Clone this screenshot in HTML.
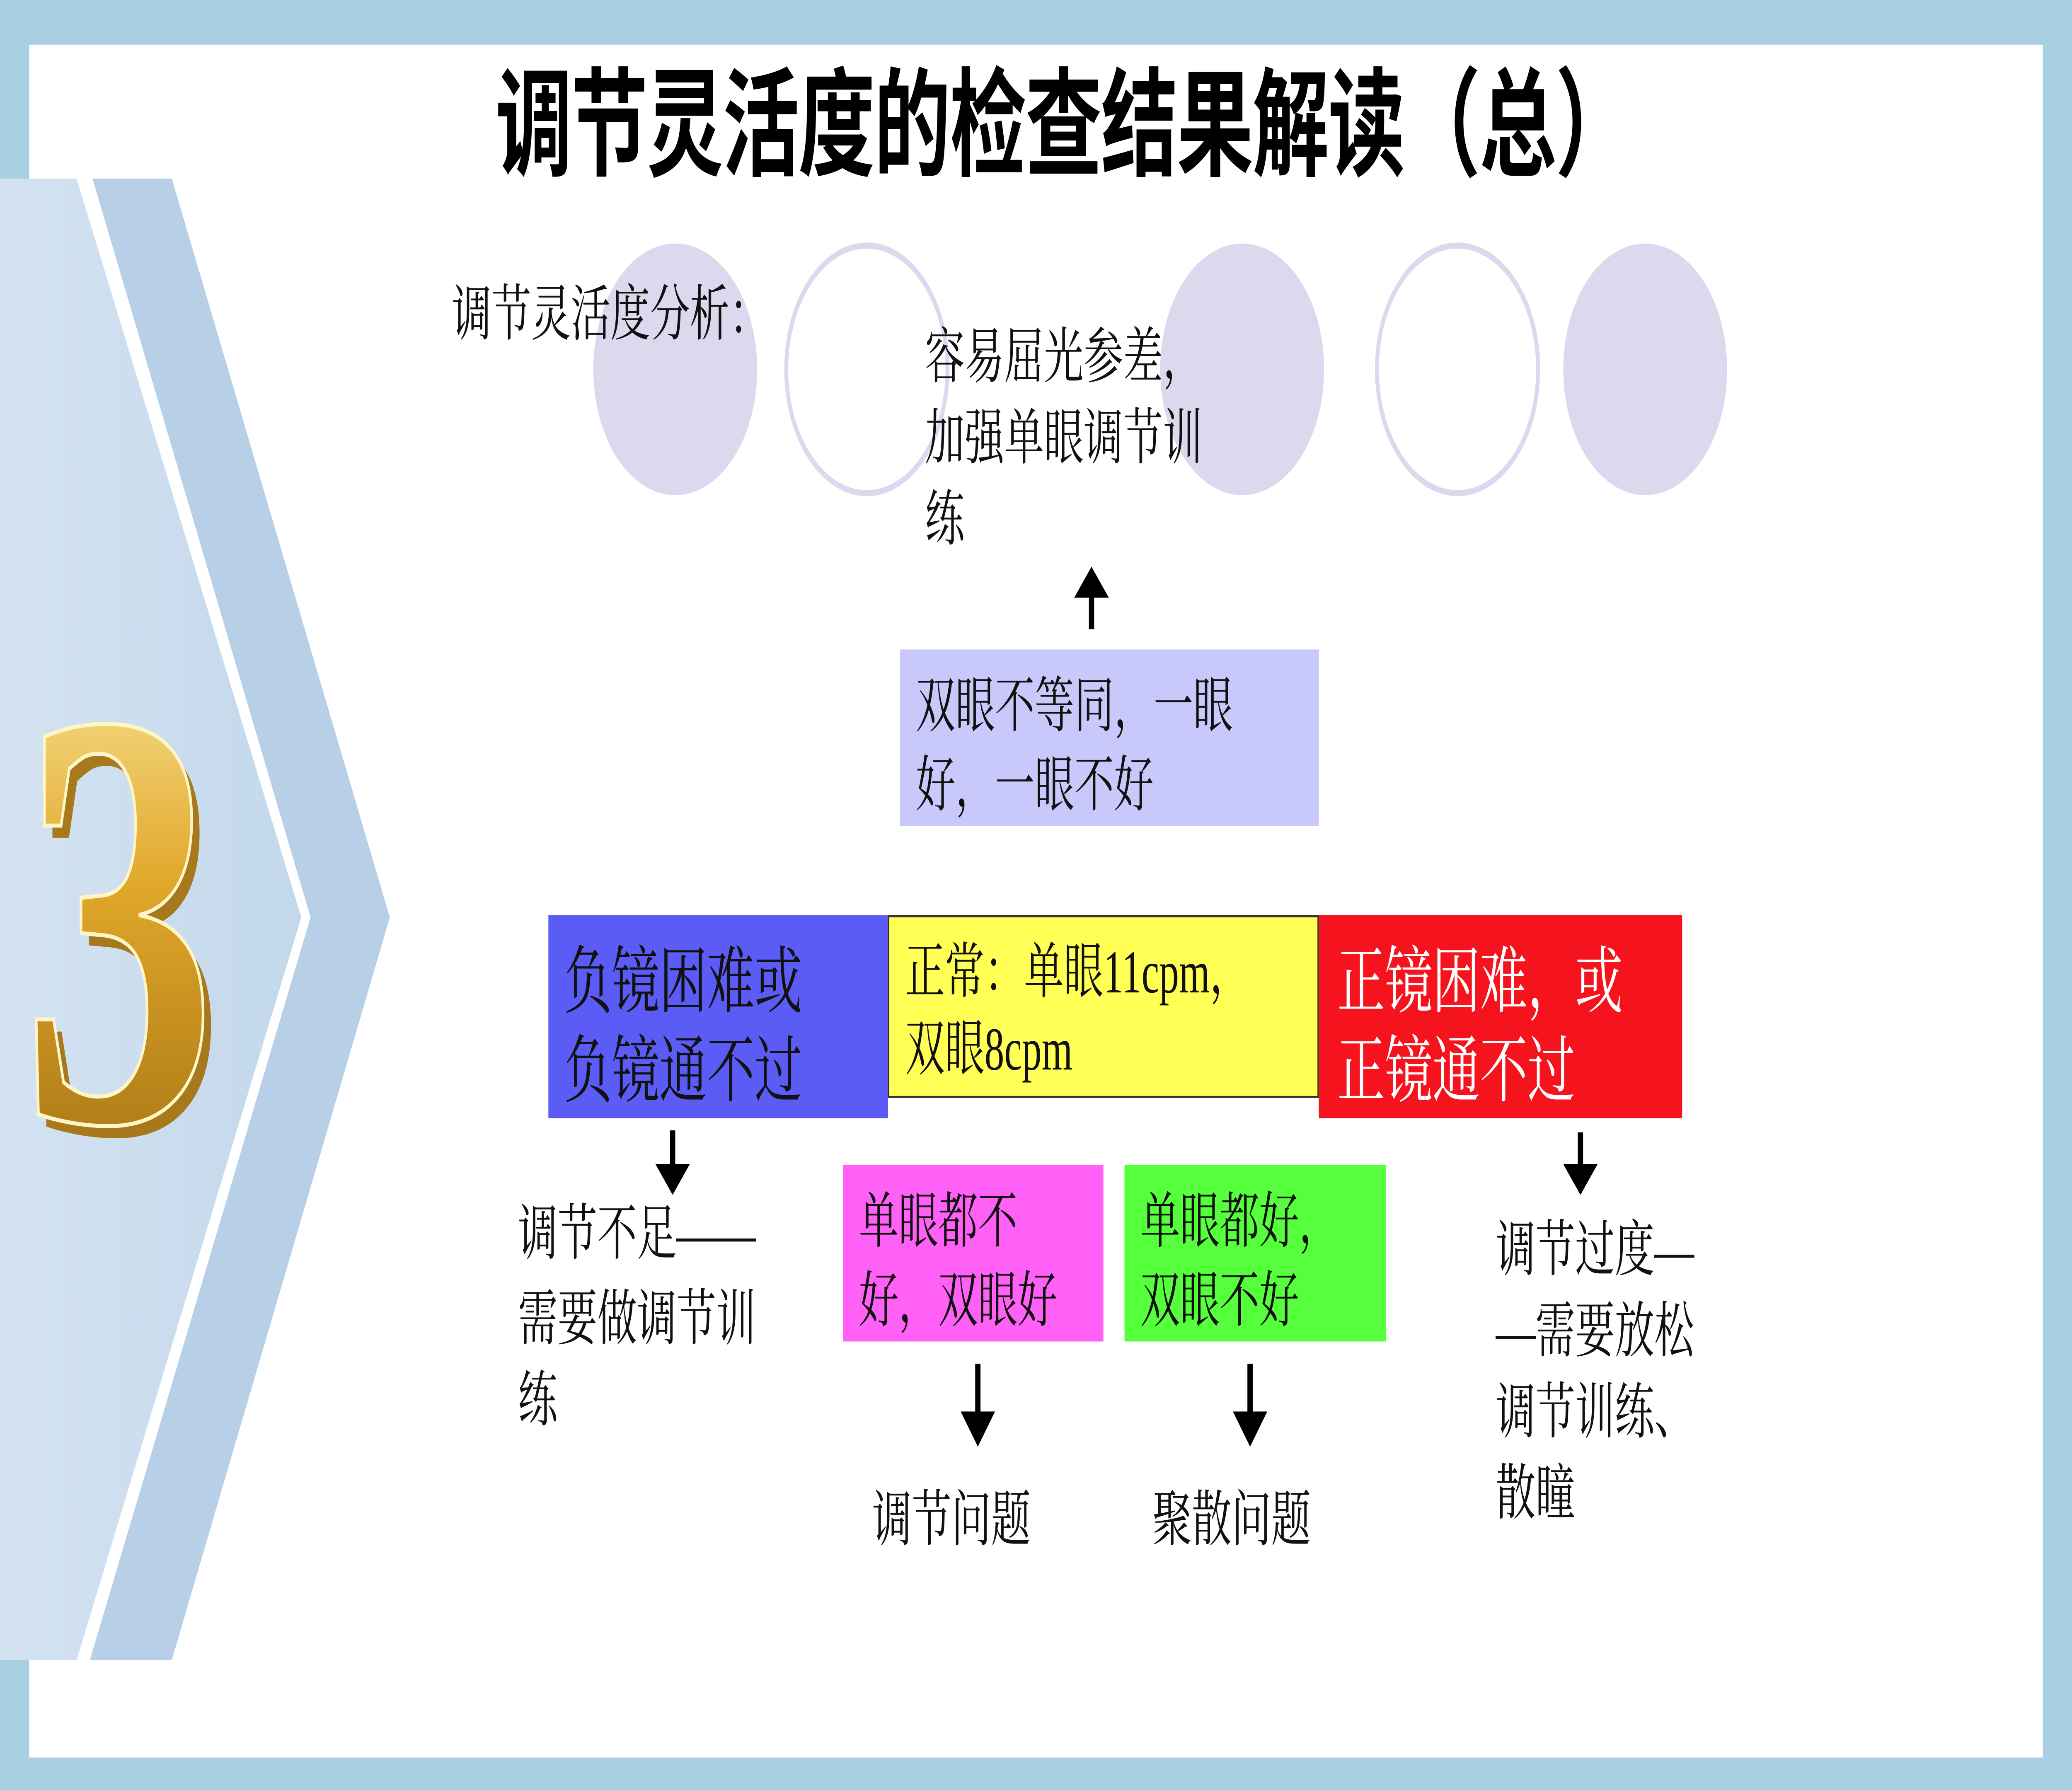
<!DOCTYPE html>
<html><head><meta charset="utf-8">
<style>
html,body{margin:0;padding:0;width:100%;height:100%;overflow:hidden;background:#a9cfe2;}
svg{display:block;position:fixed;left:0;top:0;width:100vw;height:100vh;}
.t{font-family:"Liberation Serif","Noto Serif CJK SC",serif;font-size:30px;fill:#111;}
</style></head><body>
<svg viewBox="0 0 1568 882" preserveAspectRatio="none" xmlns="http://www.w3.org/2000/svg">
<defs><linearGradient id="g1" x1="0" x2="1"><stop offset="0" stop-color="#d4e3f1"/><stop offset="1" stop-color="#c3d8ec"/></linearGradient>
<linearGradient id="gold" x1="0" y1="0" x2="0" y2="1"><stop offset="0" stop-color="#fff3b0"/><stop offset="0.45" stop-color="#e0a72a"/><stop offset="1" stop-color="#9b6a10"/></linearGradient></defs>
<rect x="0" y="0" width="1568" height="882" fill="#a9cfe2"/>
<rect x="22" y="22" width="1524" height="844" fill="#fff"/>
<polygon points="0,88 58,88 228,452 58,818 0,818" fill="url(#g1)"/>
<polygon points="70,88 130,88 295,452 130,818 68,818 235,452" fill="#b7cfe7"/>
<circle cx="511" cy="182" r="62" fill="#dcd9ee"/>
<circle cx="656" cy="182" r="61" fill="none" stroke="#dcd9ee" stroke-width="3"/>
<circle cx="940" cy="182" r="62" fill="#dcd9ee"/>
<circle cx="1103" cy="182" r="61" fill="none" stroke="#dcd9ee" stroke-width="3"/>
<circle cx="1245" cy="182" r="62" fill="#dcd9ee"/>
<g fill="#000" stroke="#000" stroke-width="4">
<line x1="826" y1="310" x2="826" y2="292"/><polygon points="814,294 838,294 826,280" stroke-width="1"/>
<line x1="509" y1="557" x2="509" y2="576"/><polygon points="497,574 521,574 509,588" stroke-width="1"/>
<line x1="1196" y1="558" x2="1196" y2="576"/><polygon points="1184,574 1208,574 1196,588" stroke-width="1"/>
<line x1="740" y1="672" x2="740" y2="698"/><polygon points="728,696 752,696 740,712" stroke-width="1"/>
<line x1="946" y1="672" x2="946" y2="698"/><polygon points="934,696 958,696 946,712" stroke-width="1"/>
</g>
<text x="96" y="558" text-anchor="middle" font-family="Liberation Serif,serif" font-weight="bold" font-size="295" fill="#a8781c">3</text>
<text x="90" y="552" text-anchor="middle" font-family="Liberation Serif,serif" font-weight="bold" font-size="295" fill="url(#gold)" stroke="#fff6c8" stroke-width="2">3</text>
<text x="375" y="82" textLength="860" lengthAdjust="spacing" font-family="Liberation Sans,Noto Sans CJK SC,sans-serif" font-weight="bold" font-size="58" fill="#000">调节灵活度的检查结果解读（总）</text>
<text class="t" x="342" y="165">调节灵活度分析：</text>
<text class="t" x="700" y="186">容易屈光参差，</text>
<text class="t" x="700" y="226">加强单眼调节训</text>
<text class="t" x="700" y="266">练</text>
<rect x="681" y="320" width="317" height="87" fill="#c9c8fb"/>
<text class="t" x="693" y="358">双眼不等同，一眼</text>
<text class="t" x="693" y="397">好，一眼不好</text>
<rect x="415" y="451" width="257" height="100" fill="#5b5bf6"/>
<text class="t" x="427" y="496" style="font-size:36px">负镜困难或</text>
<text class="t" x="427" y="540" style="font-size:36px">负镜通不过</text>
<rect x="672.5" y="451.5" width="325" height="89" fill="#ffff55" stroke="#333" stroke-width="1"/>
<text class="t" x="685" y="489">正常：单眼11cpm，</text>
<text class="t" x="685" y="527">双眼8cpm</text>
<rect x="998" y="451" width="275" height="100" fill="#f5141e"/>
<text class="t" x="1012" y="496" style="font-size:36px;fill:#fff">正镜困难，或</text>
<text class="t" x="1012" y="540" style="font-size:36px;fill:#fff">正镜通不过</text>
<text class="t" x="392" y="618">调节不足——</text>
<text class="t" x="392" y="660">需要做调节训</text>
<text class="t" x="392" y="700">练</text>
<rect x="638" y="574" width="197" height="87" fill="#ff60f5"/>
<text class="t" x="650" y="612">单眼都不</text>
<text class="t" x="650" y="651">好，双眼好</text>
<rect x="851" y="574" width="198" height="87" fill="#55ff3b"/>
<text class="t" x="863" y="612">单眼都好，</text>
<text class="t" x="863" y="651">双眼不好</text>
<text class="t" x="660" y="759">调节问题</text>
<text class="t" x="872" y="759">聚散问题</text>
<text class="t" x="1132" y="626">调节过度—</text>
<text class="t" x="1132" y="666">—需要放松</text>
<text class="t" x="1132" y="706">调节训练、</text>
<text class="t" x="1132" y="746">散瞳</text>
</svg>
</body></html>
